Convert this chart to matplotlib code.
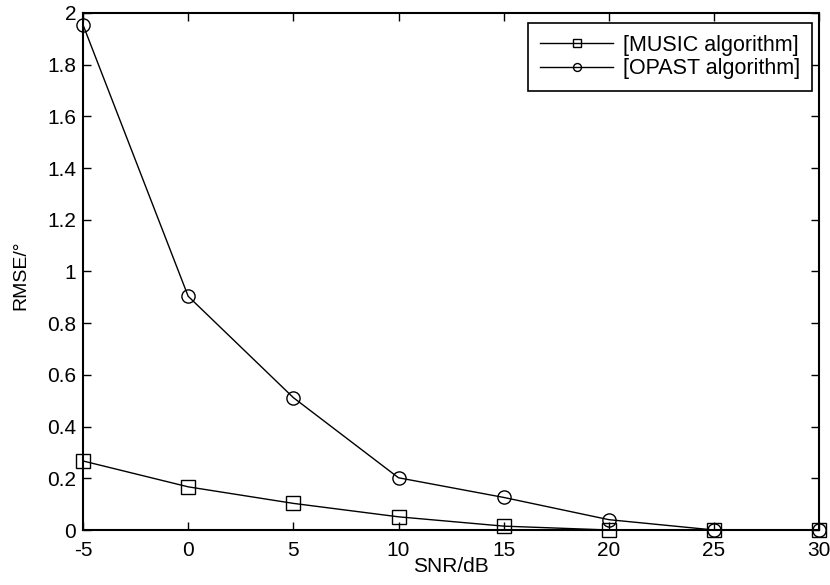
import matplotlib
matplotlib.use('Agg')
import matplotlib.pyplot as plt

plt.rcParams['font.family'] = ['Liberation Sans', 'DejaVu Sans']
plt.rcParams['axes.unicode_minus'] = False

snr = [-5, 0, 5, 10, 15, 20, 25, 30]
music = [0.267, 0.167, 0.103, 0.051, 0.015, 0.0, 0.0, 0.0]
opast = [1.954, 0.904, 0.512, 0.202, 0.126, 0.040, 0.0, 0.0]

fig = plt.figure(figsize=(8.3, 5.85), dpi=100)
ax = fig.add_axes([0.1, 0.094, 0.887, 0.884])

ax.plot(snr, music, color='black', lw=1, marker='s', markersize=9.5,
        markerfacecolor='none', markeredgecolor='black', markeredgewidth=1,
        label='[MUSIC algorithm]', clip_on=False)
ax.plot(snr, opast, color='black', lw=1, marker='o', markersize=9.5,
        markerfacecolor='none', markeredgecolor='black', markeredgewidth=1,
        label='[OPAST algorithm]', clip_on=False)

ax.set_xlim(-5, 30)
ax.set_ylim(0, 2)
ax.set_xticks(range(-5, 31, 5))
ax.set_yticks([0, 0.2, 0.4, 0.6, 0.8, 1, 1.2, 1.4, 1.6, 1.8, 2])
ax.set_yticklabels(['0', '0.2', '0.4', '0.6', '0.8', '1', '1.2', '1.4', '1.6', '1.8', '2'])
ax.tick_params(direction='in', top=True, right=True, length=6, width=1,
               labelsize=15)
ax.tick_params(axis='x', pad=8)
ax.tick_params(axis='y', pad=5)
for s in ax.spines.values():
    s.set_linewidth(1.5)

ax.set_xlabel('SNR/dB', fontsize=15)
ax.xaxis.set_label_coords(0.5, -0.052)
ax.set_ylabel('RMSE/°', fontsize=14)
ax.yaxis.set_label_coords(-0.073, 0.493)

leg = ax.legend(loc='upper right', bbox_to_anchor=(0.9905, 0.9807),
                borderaxespad=0, fontsize=15.5, handlelength=3.4,
                markerscale=0.6, fancybox=False, edgecolor='black',
                framealpha=1, borderpad=0.56, labelspacing=0.1,
                handletextpad=0.45)
leg.get_frame().set_linewidth(1.2)

fig.savefig('out.png', dpi=100)
